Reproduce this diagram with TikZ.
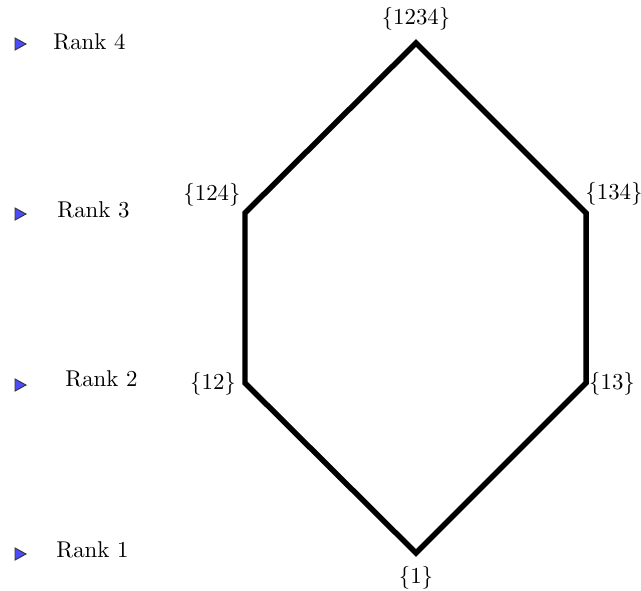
\documentclass[tikz,border=0pt]{standalone}
\tikzset{
    hasse/.style={line width=2.4pt, black},
    rankmark/.style={fill=blue!70, draw=black!80, thin, line join=miter},
}
\begin{document}
\begin{tikzpicture}[x=0.4378pt, y=-0.4378pt]
    \useasboundingbox (0,0) rectangle (641,590);

    % ranks on the left
    \foreach \r/\my/\ty/\tx in {4/44/42/53, 3/214/210/57, 2/385/379/65, 1/554/550/56}{
        \filldraw[rankmark] (15,\my-6) -- (26,\my) -- (15,\my+6) -- cycle;
        \node[anchor=west, inner sep=0pt] (rank\r) at (\tx,\ty) {Rank \r};
    }

    % the lattice
    \coordinate (v1) at (416,553);
    \coordinate (v12) at (245,383);
    \coordinate (v13) at (586,383);
    \coordinate (v124) at (245,213);
    \coordinate (v134) at (586,213);
    \coordinate (v1234) at (416,43);

    \draw[hasse] (v1) -- (v12) -- (v124) -- (v1234) -- (v134) -- (v13) -- cycle;

    \node (l1) at (416,578) {$\{1\}$};
    \node (l12) at (213,384) {$\{12\}$};
    \node (l13) at (612,384) {$\{13\}$};
    \node (l124) at (212,195) {$\{124\}$};
    \node (l134) at (614,194) {$\{134\}$};
    \node (l1234) at (416,19) {$\{1234\}$};
\end{tikzpicture}
\end{document}
